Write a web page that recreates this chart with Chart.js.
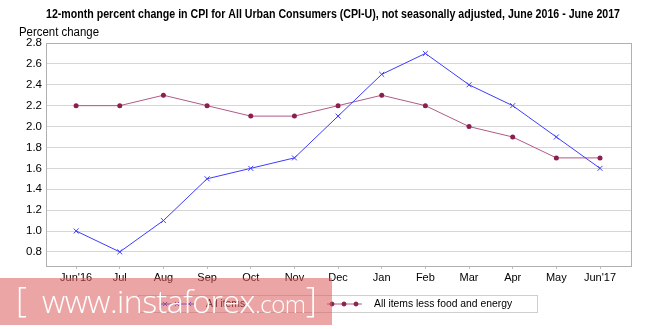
<!DOCTYPE html>
<html>
<head>
<meta charset="utf-8">
<script src="https://cdn.jsdelivr.net/npm/chart.js@4"></script>
<style>
html,body{margin:0;padding:0;background:#fff;}
#wrap{position:relative;width:665px;height:329px;}
#wm{position:absolute;left:0;top:278px;width:332px;height:47px;background:rgba(218,91,91,0.55);color:#fff;font-family:'Open Sans',sans-serif;font-weight:300;white-space:nowrap;}
#wm .b{position:absolute;top:1px;font-size:34px;line-height:40px;}
#wm .t{position:absolute;left:42px;top:3px;font-size:32px;line-height:40px;letter-spacing:-0.5px;}
#wm .t small{font-size:24px;}
</style>
</head>
<body>
<div id="wrap">
<canvas id="c" width="665" height="329"></canvas>
<div id="wm"><span class="b" style="left:16px">[</span><span class="t">www.instaforex<small>.com</small></span><span class="b" style="left:306px">]</span></div>
</div>
<script>
const categories = ["Jun'16","Jul","Aug","Sep","Oct","Nov","Dec","Jan","Feb","Mar","Apr","May","Jun'17"];
const allItems = [1.0,0.8,1.1,1.5,1.6,1.7,2.1,2.5,2.7,2.4,2.2,1.9,1.6];
const coreItems = [2.2,2.2,2.3,2.2,2.1,2.1,2.2,2.3,2.2,2.0,1.9,1.7,1.7];
const yTicks = [0.8,1.0,1.2,1.4,1.6,1.8,2.0,2.2,2.4,2.6,2.8];
const titleText = "12-month percent change in CPI for All Urban Consumers (CPI-U), not seasonally adjusted, June 2016 - June 2017";
const yTitle = "Percent change";

const BLUE = 'rgb(60,60,255)';
const MAROON_LINE = 'rgb(175,90,135)';
const MAROON_PT = 'rgb(140,30,80)';
const FONT = '"Liberation Sans", Arial, sans-serif';

const toXY = arr => arr.map((v,i)=>({x:i,y:v}));

function narrowText(ctx, text, x, y, sx){
  ctx.save();
  ctx.translate(x, y);
  ctx.scale(sx, 1);
  ctx.fillText(text, 0, 0);
  ctx.restore();
}

const extras = {
  id:'extras',
  afterDraw(chart){
    const ctx = chart.ctx, a = chart.chartArea;
    ctx.save();
    ctx.strokeStyle = '#b0b0b0'; ctx.lineWidth = 1;
    ctx.strokeRect(Math.round(a.left)+0.5, Math.round(a.top)+0.5, Math.round(a.right-a.left), Math.round(a.bottom-a.top));
    // title
    ctx.fillStyle = '#000';
    ctx.font = 'bold 12px ' + FONT;
    ctx.textBaseline = 'middle';
    ctx.textAlign = 'center';
    const tw = ctx.measureText(titleText).width;
    narrowText(ctx, titleText, 333, 15, 574/tw);
    ctx.textAlign = 'left';
    ctx.font = '12px ' + FONT;
    narrowText(ctx, yTitle, 19, 33, 80/ctx.measureText(yTitle).width);
    // legend
    const lx = 138, ly = 295, lw = 399, lh = 17;
    ctx.strokeStyle = '#cfcfcf';
    ctx.strokeRect(lx+0.5, ly+0.5, lw, lh);
    const cy = ly + lh/2 + 0.5;
    const items = [
      {ds:chart.data.datasets[0], x:160, tx:206, r:3},
      {ds:chart.data.datasets[1], x:327, tx:374, r:2}
    ];
    ctx.font = '11.5px ' + FONT;
    items.forEach(it=>{
      ctx.strokeStyle = it.ds.borderColor; ctx.lineWidth = 1;
      ctx.beginPath(); ctx.moveTo(it.x, cy); ctx.lineTo(it.x+35, cy); ctx.stroke();
      ctx.strokeStyle = it.ds.pointBorderColor; ctx.fillStyle = it.ds.pointBackgroundColor;
      [it.x+5, it.x+17, it.x+29].forEach(px=>{
        Chart.helpers.drawPoint(ctx, {pointStyle: it.ds.pointStyle, radius: it.r, borderWidth:1, rotation:0}, px, cy);
      });
      ctx.fillStyle = '#000';
      narrowText(ctx, it.ds.label, it.tx, cy, 0.9);
    });
    ctx.restore();
  }
};

new Chart(document.getElementById('c'), {
  type:'line',
  data:{
    datasets:[
      {label:'All items', data:toXY(allItems), borderColor:BLUE, backgroundColor:BLUE, borderWidth:1,
       pointStyle:'crossRot', pointRadius:3.5, pointBorderColor:BLUE, pointBackgroundColor:BLUE, pointBorderWidth:1, tension:0},
      {label:'All items less food and energy', data:toXY(coreItems), borderColor:MAROON_LINE, backgroundColor:MAROON_PT, borderWidth:1,
       pointStyle:'circle', pointRadius:2.5, pointBackgroundColor:MAROON_PT, pointBorderColor:MAROON_PT, pointBorderWidth:0, tension:0}
    ]
  },
  options:{
    responsive:false, animation:false, devicePixelRatio:1,
    layout:{padding:{top:43,right:34,bottom:43,left:0}},
    plugins:{legend:{display:false}, title:{display:false}, tooltip:{enabled:false}},
    scales:{
      x:{type:'linear', min:-0.69, max:12.71,
        afterBuildTicks(s){ s.ticks = categories.map((c,i)=>({value:i})); },
        afterFit(s){ s.height = 20; },
        ticks:{callback:(v)=>categories[v], color:'#000', font:{family:FONT, size:11}, padding:2, maxRotation:0, autoSkip:false},
        grid:{drawOnChartArea:false, drawTicks:true, tickLength:3, color:'#c0c0c0'},
        border:{color:'#b0b0b0'}
      },
      y:{min:0.665, max:2.8,
        afterBuildTicks(s){ s.ticks = yTicks.map(v=>({value:v})); },
        afterFit(s){ s.width = 46; },
        ticks:{callback:(v)=>v.toFixed(1), color:'#000', font:{family:FONT, size:11.5}, padding:4},
        grid:{color:'#d6d6d6', drawTicks:false},
        border:{color:'#b0b0b0'}
      }
    }
  },
  plugins:[extras]
});
</script>
</body>
</html>
